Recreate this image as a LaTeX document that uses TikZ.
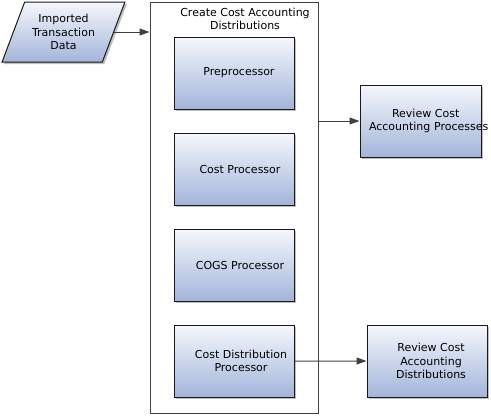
\documentclass[tikz,border=0pt]{standalone}
\usepackage{fontspec}
\setmainfont{DejaVu Sans}
\usetikzlibrary{shapes.geometric,shadows,arrows.meta}
\definecolor{boxtop}{HTML}{F5F7FC}
\definecolor{boxbottom}{HTML}{A3B5DA}
\definecolor{lineg}{HTML}{404040}
\begin{document}
\begin{tikzpicture}[x=1bp, y=-1bp, node distance=96bp, font=\fontsize{11bp}{13.5bp}\selectfont]
	\edef\boxwidth{120bp}
	\edef\boxheight{72bp}
	\tikzstyle{proc}=[draw=black!90, line width=1bp, rectangle, align=center, minimum width=\boxwidth, minimum height=\boxheight, inner sep=1bp, top color=boxtop, bottom color=boxbottom, drop shadow={shadow xshift=2bp, shadow yshift=-2bp, fill=black!25, opacity=1}]
	\tikzstyle{flow}=[draw=lineg, line width=1bp, -{Triangle[length=10bp, width=7bp]}]

	\useasboundingbox (0,0) rectangle (491,415);

	\node [proc, trapezium, trapezium left angle=62.7, trapezium right angle=117.3, trapezium stretches=true, minimum width=123bp, minimum height=60bp, inner sep=0bp] (data) at (63.5,32) {Imported\\Transaction\\Data};

	\node [draw=black!75, line width=0.9bp, rectangle, minimum width=168bp, minimum height=411bp] (dist) at (234,207.5) {};
	\node [align=center] (title) at (245,19) {Create Cost Accounting\\Distributions};

	\node [proc] (pre) at (234,73) {\hspace*{10bp}Preprocessor};
	\node [proc] (cost) [below of=pre] {\hspace*{12bp}Cost Processor};
	\node [proc] (cogs) [below of=cost] {\hspace*{12bp}COGS Processor};
	\node [proc] (cdp) [below of=cogs] {\hspace*{14bp}Cost Distribution\\\hspace*{14bp}Processor};

	\node [proc, text width=119bp, align=left] (revp) at (420.5,121) {\hspace*{31bp}Review Cost\\\hspace*{8bp}\mbox{Accounting Processes}};
	\node [proc] (revd) at (427,361) {\hspace*{8bp}Review Cost\\\hspace*{8bp}Accounting\\\hspace*{8bp}Distributions};

	\draw [flow] (data.east) -- (data.east -| dist.west);
	\draw [flow] (revp.west -| dist.east) -- (revp.west); % processes
	\draw [flow] (cdp.east) -- (revd.west); % distributions

\end{tikzpicture}
\end{document}
